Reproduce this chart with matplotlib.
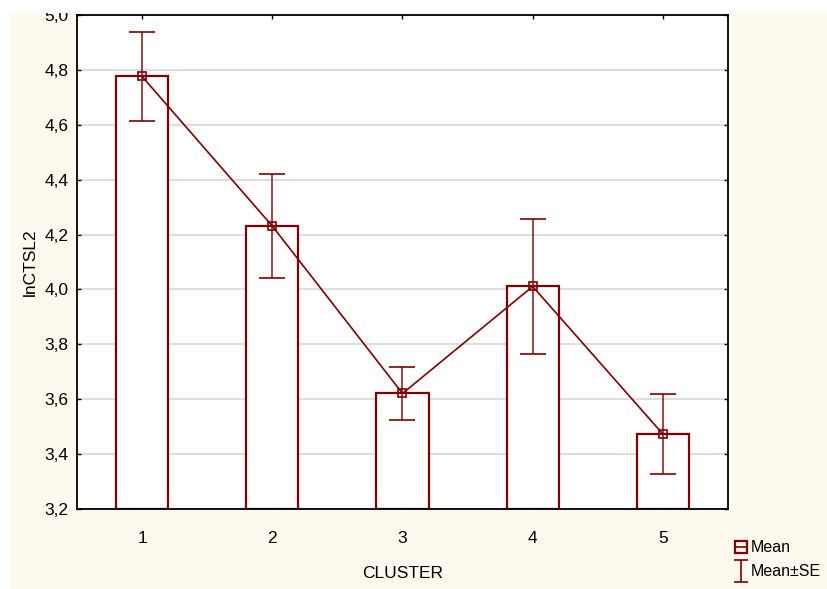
import matplotlib
matplotlib.use('Agg')
import matplotlib.pyplot as plt
from matplotlib.lines import Line2D
from matplotlib.patches import Rectangle
from matplotlib.path import Path
from matplotlib.ticker import FuncFormatter

# dane: μέσοι όροι και τυπικά σφάλματα ανά cluster
clusters = [1, 2, 3, 4, 5]
means = [4.776, 4.231, 3.621, 4.011, 3.473]
se = [0.161, 0.191, 0.097, 0.245, 0.146]
y_ticks = [3.2, 3.4, 3.6, 3.8, 4.0, 4.2, 4.4, 4.6, 4.8, 5.0]

red = '#800000'
cream = '#FDF9EE'
plt.rcParams['font.family'] = ['Liberation Sans', 'DejaVu Sans']

fig = plt.figure(figsize=(8.28, 5.89), dpi=100, facecolor='white')
fig.patches.append(Rectangle((10 / 828, 0), 1, (589 - 13) / 589, transform=fig.transFigure,
                             facecolor=cream, edgecolor='none', zorder=-10))
ax = fig.add_axes([77 / 828, 80 / 589, 651 / 828, 494 / 589])
ax.set_facecolor('white')

# ράβδοι
ax.bar(clusters, [m - 3.2 for m in means], bottom=3.2, width=0.4,
       facecolor='white', edgecolor=red, linewidth=1.6, zorder=2)
# γραμμή μέσων όρων
ax.plot(clusters, means, color=red, linewidth=1.2, marker='s', markersize=6,
        markerfacecolor='none', markeredgecolor=red, markeredgewidth=1.2, zorder=4)
# σφάλματα
ax.errorbar(clusters, means, yerr=se, fmt='none', ecolor=red, elinewidth=1.2,
            capsize=9.4, capthick=1.4, alpha=0.85, zorder=3)

ax.set_xlim(0.5, 5.5)
ax.set_ylim(3.2, 5.0)
ax.set_xticks(clusters)
ax.set_yticks(y_ticks)
ax.yaxis.set_major_formatter(FuncFormatter(lambda v, p: ('%.1f' % v).replace('.', ',')))
ax.grid(axis='y', color='#D8D8D8', linewidth=1.2, zorder=0)
ax.set_axisbelow(True)
ax.tick_params(direction='in', length=3, width=1, top=True, right=True, labelsize=12.5)
ax.tick_params(axis='x', pad=16)
ax.tick_params(axis='y', pad=6)
for s in ax.spines.values():
    s.set_linewidth(1.3)
    s.set_color('black')

ax.set_xlabel('CLUSTER', fontsize=12.5, labelpad=14)
ax.set_ylabel('lnCTSL2', fontsize=12.5, labelpad=5)

# υπόμνημα
ibeam = Path([(-0.6, 1), (0.6, 1), (0, 1), (0, -1), (-0.6, -1), (0.6, -1)],
             [Path.MOVETO, Path.LINETO, Path.MOVETO, Path.LINETO, Path.MOVETO, Path.LINETO])
handles = [Line2D([], [], color=red, marker='s', markersize=8, markerfacecolor='none',
                  markeredgewidth=1.6, linewidth=1.2),
           Line2D([], [], color=red, marker=ibeam, markersize=16, linestyle='none',
                  markeredgewidth=1.2)]
fig.legend(handles, ['Mean', 'Mean±SE'], loc='upper left', bbox_to_anchor=(730 / 828, 55 / 589),
           frameon=False, fontsize=11.5, handlelength=0.6, handletextpad=0.3, labelspacing=0.55,
           borderaxespad=0)

# λευκή λωρίδα επάνω (κομμένη εικόνα)
fig.patches.append(Rectangle((0, (589 - 13) / 589), 1, 1, transform=fig.transFigure,
                             facecolor='white', edgecolor='none', zorder=10))
fig.patches.append(Rectangle((0, 0), 10 / 828, 1, transform=fig.transFigure,
                             facecolor='white', edgecolor='none', zorder=10))

fig.savefig('out.png', dpi=100, facecolor=fig.get_facecolor())
